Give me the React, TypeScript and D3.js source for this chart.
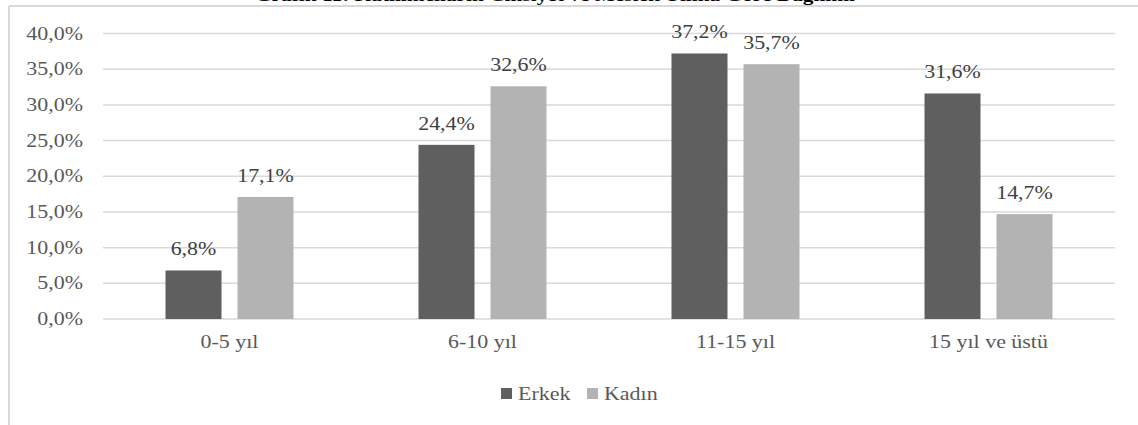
import React from "react";
import * as d3 from "d3";

const categories = ["0-5 yıl", "6-10 yıl", "11-15 yıl", "15 yıl ve üstü"];
const seriesNames = ["Erkek", "Kadın"];
const erkekValues = [6.8, 24.4, 37.2, 31.6];
const kadinValues = [17.1, 32.6, 35.7, 14.7];
const yTicks = [0, 5, 10, 15, 20, 25, 30, 35, 40];
const titleText = "Grafik 11: Katılımcıların Cinsiyet ve Meslek Yılına Göre Dağılımı";

const W = 1138;
const H = 425;
const FONT = "'Liberation Serif', 'Times New Roman', serif";
const colors: Record<string, string> = { Erkek: "#5f5f5f", Kadın: "#b3b3b3" };
// the chart's text is set slightly wide
const STRETCH = 1.22;

const fmt = (v: number) => v.toFixed(1).replace(".", ",") + "%";

type TProps = {
  x: number;
  y: number;
  anchor?: "start" | "middle" | "end";
  size?: number;
  fill?: string;
  weight?: string;
  children: React.ReactNode;
};

function WideText({ x, y, anchor = "start", size = 18, fill = "#595959", weight = "normal", children }: TProps) {
  return (
    <text
      transform={`translate(${x},${y}) scale(${STRETCH},1)`}
      textAnchor={anchor}
      fontSize={size}
      fontWeight={weight}
      fill={fill}
    >
      {children}
    </text>
  );
}

export default function App() {
  const plotLeft = 103;
  const plotRight = 1115;
  const y = d3.scaleLinear().domain([0, 40]).range([319, 33.5]);
  const x = d3.scaleBand<string>().domain(categories).range([plotLeft, plotRight]).paddingInner(0).paddingOuter(0);
  const bw = x.bandwidth();
  const xs = d3
    .scaleBand<string>()
    .domain(seriesNames)
    .range([(bw - 128) / 2, (bw + 128) / 2])
    .paddingInner(0.2222)
    .paddingOuter(0);

  const valuesBySeries: Record<string, number[]> = { Erkek: erkekValues, Kadın: kadinValues };

  const legendItems = [
    { name: "Erkek", x: 501 },
    { name: "Kadın", x: 587 },
  ];

  return (
    <svg
      width={W}
      height={H}
      style={{ position: "absolute", left: 0, top: 0, background: "#fff" }}
      fontFamily={FONT}
    >
      <rect x={0} y={0} width={W} height={H} fill="#fff" />
      {/* title, running above the chart frame */}
      <WideText x={555} y={1} anchor="middle" size={17.5} weight="bold" fill="#000">
        {titleText}
      </WideText>
      {/* chart frame */}
      <line x1={9} x2={W} y1={6} y2={6} stroke="#d9d9d9" strokeWidth={2} />
      <line x1={9} x2={9} y1={6} y2={H} stroke="#d9d9d9" strokeWidth={2} />

      {/* gridlines and y labels */}
      {yTicks.map((t) => (
        <g key={t}>
          <line x1={plotLeft} x2={plotRight} y1={y(t)} y2={y(t)} stroke="#d9d9d9" strokeWidth={1.5} />
          <WideText x={83} y={y(t) + 6} anchor="end">
            {fmt(t)}
          </WideText>
        </g>
      ))}

      {/* bars with value labels */}
      {categories.map((c, i) => (
        <g key={c} transform={`translate(${x(c)},0)`}>
          {seriesNames.map((s) => {
            const v = valuesBySeries[s][i];
            const bx = xs(s) as number;
            return (
              <g key={s}>
                <rect x={bx} y={y(v)} width={xs.bandwidth()} height={y(0) - y(v)} fill={colors[s]} />
                <WideText x={bx + xs.bandwidth() / 2} y={y(v) - 15} anchor="middle" fill="#404040">
                  {fmt(v)}
                </WideText>
              </g>
            );
          })}
          <WideText x={bw / 2} y={348} anchor="middle">
            {c}
          </WideText>
        </g>
      ))}

      {/* legend */}
      {legendItems.map((l) => (
        <g key={l.name}>
          <rect x={l.x} y={388} width={11} height={11} fill={colors[l.name]} />
          <WideText x={l.x + 17} y={400}>
            {l.name}
          </WideText>
        </g>
      ))}
    </svg>
  );
}
